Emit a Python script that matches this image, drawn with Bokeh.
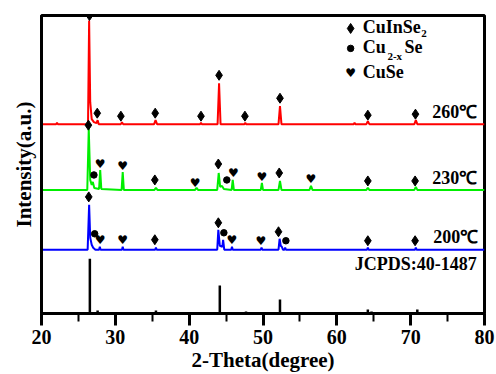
from bokeh.plotting import figure
from bokeh.models import SingleIntervalTicker, FixedTicker
from bokeh.core.properties import value
from bokeh.embed import file_html
from bokeh.resources import INLINE

FONT = "Liberation Serif"

# ---------------- data (2-theta in degrees, intensity in a.u.) ----------------
# vertical stacking offsets of the patterns
offset_260 = 190
offset_230 = 124
offset_200 = 64

# 260 C pattern (red), intensity above its own baseline
red_x = [20.0, 22.0, 22.1, 22.2, 26.3, 26.45, 26.6, 26.8, 27.1, 27.45, 27.6, 27.75,
         30.75, 30.9, 31.05, 35.25, 35.45, 35.65, 41.5, 41.6, 41.7, 43.85, 44.05, 44.25,
         47.5, 47.6, 47.7, 52.1, 52.3, 52.5, 62.3, 62.4, 62.5, 64.0, 64.2, 64.4,
         70.5, 70.7, 70.9, 80.0]
red_y = [0, 0, 1.5, 0, 0, 104, 22, 5, 2, 1, 4, 0,
         0, 2, 0, 0, 4, 0, 0, 1.5, 0, 0, 41, 0,
         0, 1.5, 0, 0, 18, 0, 0, 1.5, 0, 0, 3, 0,
         0, 4, 0, 0]

# 230 C pattern (green)
green_x = [20.0, 26.2, 26.4, 26.6, 26.8, 26.95, 27.15, 27.8, 27.95, 28.1,
           30.85, 31.0, 31.15, 35.3, 35.5, 35.7, 40.8, 41.0, 41.2,
           43.8, 44.0, 44.2, 44.45, 44.7, 45.75, 45.9, 46.05,
           49.7, 49.85, 50.0, 52.1, 52.3, 52.5, 56.3, 56.5, 56.7,
           64.0, 64.2, 64.4, 70.5, 70.7, 70.9, 80.0]
green_y = [0, 0, 61, 10, 5, 8, 2, 1, 20, 1,
           0, 18, 0, 0, 2, 0, 0, 2, 0,
           0, 17, 3, 4, 1, 0, 10, 0,
           0, 7, 0, 0, 9, 0, 0, 4, 0,
           0, 2, 0, 0, 3, 0, 0]

# 200 C pattern (blue)
blue_x = [20.0, 26.25, 26.45, 26.6, 26.8, 27.0, 27.3, 27.8, 27.9, 28.0,
          30.9, 31.0, 31.1, 35.4, 35.5, 35.6, 43.8, 43.95, 44.15, 44.5, 44.6, 44.75,
          45.7, 45.8, 45.9, 49.7, 49.8, 49.9, 52.1, 52.25, 52.4, 52.55, 52.7,
          52.9, 53.0, 53.1, 64.1, 64.2, 64.3, 70.6, 70.7, 70.8, 80.0]
blue_y = [0, 0, 45, 12, 5, 2, 0, 0, 3, 0,
          0, 3, 0, 0, 2, 0, 0, 20, 4, 3, 10, 0,
          0, 3, 0, 0, 2, 0, 0, 11, 4, 3, 0,
          0, 2, 0, 0, 2, 0, 0, 2, 0, 0]

# JCPDS 40-1487 reference lines
ref_pos = [26.55, 27.6, 31.0, 35.5, 41.9, 44.15, 47.7, 52.3, 61.0, 64.2, 64.7, 70.9]
ref_int = [55, 3, 1, 3, 1, 28, 2, 14, 1, 4, 2, 4]

# phase markers (2-theta, height on the chart)
cuinse2_x = [26.5, 27.55, 30.75, 35.4, 41.6, 44.05, 47.55, 52.3, 64.2, 70.65,
             26.35, 35.35, 43.95, 52.2, 64.2, 70.6,
             26.4, 35.35, 43.95, 52.1, 64.2, 70.6]
cuinse2_y = [299, 201, 198, 201, 198, 239, 198, 216, 199, 200,
             189, 134, 150, 141, 133, 133,
             117, 74, 91, 82, 73, 73]
cu2xse_x = [27.1, 45.1, 27.2, 44.7, 53.1]
cu2xse_y = [139, 134, 80, 81, 73]
cuse_x = [27.95, 31.0, 40.8, 46.0, 49.85, 56.5,
          27.95, 31.0, 45.8, 49.7]
cuse_y = [150, 148, 131, 141, 137, 135,
          74, 74, 74, 73]

temp_labels = ["260\u2103", "230\u2103", "200\u2103", "JCPDS:40-1487"]
temp_x = [75.96, 75.96, 76.1, 70.7]
temp_y = [202, 136, 77, 50]

# ---------------- figure ----------------
p = figure(width=496, height=374, x_range=(20, 80), y_range=(0, 299),
           output_backend="svg", toolbar_location=None,
           min_border_left=41, min_border_right=12, min_border_top=15,
           min_border_bottom=60)
p.grid.visible = False
p.background_fill_color = "white"
p.border_fill_color = "white"
p.outline_line_color = "black"
p.outline_line_width = 3

xa = p.xaxis[0]
xa.ticker = SingleIntervalTicker(interval=10, num_minor_ticks=2)
xa.axis_line_width = 3
xa.axis_line_color = "black"
xa.major_tick_line_width = 3
xa.minor_tick_line_width = 2
xa.major_tick_out = 12
xa.major_tick_in = 0
xa.minor_tick_out = 8
xa.minor_tick_in = 0
xa.major_label_text_font = FONT
xa.major_label_text_font_style = "bold"
xa.major_label_text_font_size = "20px"
xa.major_label_text_color = "black"
xa.major_label_standoff = 4
xa.axis_label = "2-Theta(degree)"
xa.axis_label_text_font = FONT
xa.axis_label_text_font_style = "bold"
xa.axis_label_text_font_size = "21px"
xa.axis_label_text_color = "black"
xa.axis_label_standoff = 1

ya = p.yaxis[0]
ya.ticker = FixedTicker(ticks=[])
ya.axis_line_width = 3
ya.axis_line_color = "black"
ya.major_tick_out = 0
ya.major_tick_in = 0
ya.minor_tick_out = 0
ya.minor_tick_in = 0
ya.major_label_standoff = 0
ya.axis_label = "Intensity(a.u.)"
ya.axis_label_text_font = FONT
ya.axis_label_text_font_style = "bold"
ya.axis_label_text_font_size = "21px"
ya.axis_label_text_color = "black"
ya.axis_label_standoff = 6

# patterns
p.line(red_x, [v + offset_260 for v in red_y], line_color="#ff0000", line_width=2)
p.line(green_x, [v + offset_230 for v in green_y], line_color="#00ee00", line_width=2)
p.line(blue_x, [v + offset_200 for v in blue_y], line_color="#0000ff", line_width=2)
p.segment(x0=ref_pos, y0=[0] * len(ref_pos), x1=ref_pos, y1=ref_int,
          line_color="black", line_width=2.5)

# markers
p.scatter(cuinse2_x, cuinse2_y, marker="diamond", size=10, color="black")
p.scatter(cu2xse_x, cu2xse_y, marker="circle", size=6.5, color="black")
p.text(cuse_x, cuse_y, text=["\u2665"] * len(cuse_x), text_font=value("DejaVu Sans"),
       text_font_size="12px", text_align="center", text_baseline="middle", text_color="black")

# legend
p.scatter([61.87], [286], marker="diamond", size=10, color="black")
p.scatter([61.87], [266], marker="circle", size=6.5, color="black")
p.text([61.87], [241], text=["\u2665"], text_font=value("DejaVu Sans"),
       text_font_size="12px", text_align="center", text_baseline="middle", text_color="black")
main_kw = dict(text_font=value(FONT), text_font_style="bold", text_font_size="18px",
               text_align="left", text_baseline="middle", text_color="black")
sub_kw = dict(text_font=value(FONT), text_font_style="bold", text_font_size="11px",
              text_align="left", text_baseline="middle", text_color="black")
p.text([63.5, 63.5, 69.15, 63.5], [287, 267, 267, 242],
       text=["CuInSe", "Cu", "Se", "CuSe"], **main_kw)
p.text([71.45, 66.85], [281, 258], text=["2", "2-x"], **sub_kw)

# temperature / reference labels
p.text(temp_x, temp_y, text=temp_labels, text_font=value(FONT), text_font_style="bold",
       text_font_size="18px", text_align="center", text_baseline="middle", text_color="black")

open("out.html", "w").write(file_html(p, INLINE))
